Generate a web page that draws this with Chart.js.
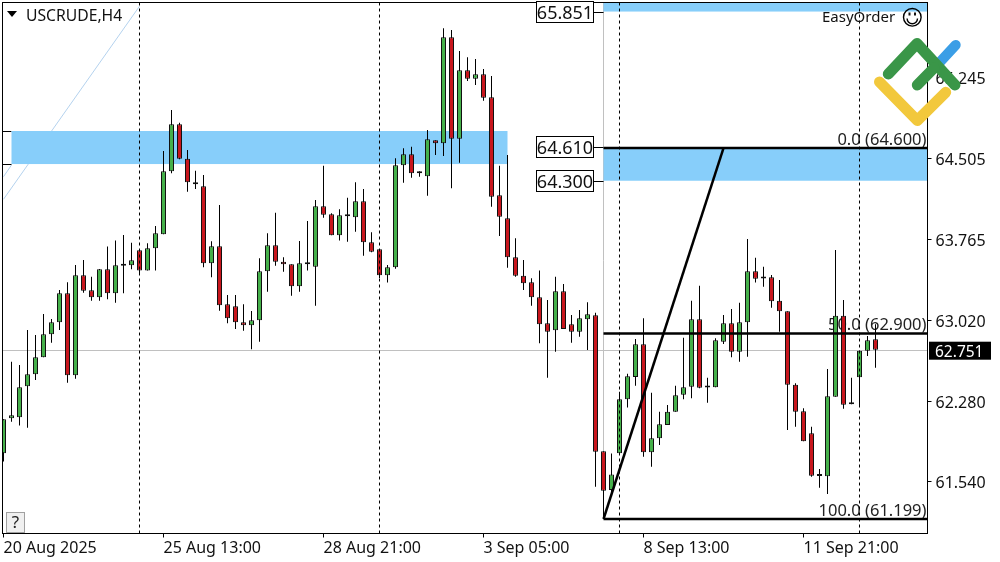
<!DOCTYPE html>
<html>
<head>
<meta charset="utf-8">
<title>USCRUDE,H4</title>
<script src="https://cdn.jsdelivr.net/npm/chart.js@4"></script>
<style>
  html, body { margin: 0; padding: 0; background: #fff; }
  canvas { display: block; }
</style>
</head>
<body>
<canvas id="chart" width="1000" height="562"></canvas>
<script>
const symbolName = 'USCRUDE,H4';
const xTickCandles = [0, 20, 40, 60, 80, 100];
const xTickLabels = ['20 Aug 2025', '25 Aug 13:00', '28 Aug 21:00', '3 Sep 05:00', '8 Sep 13:00', '11 Sep 21:00'];
const yTicks = [65.245, 64.505, 63.765, 63.02, 62.28, 61.54];

const opens = [61.802,62.122,62.132,62.416,62.526,62.682,62.892,63.002,63.268,62.517,
  63.433,63.296,63.232,63.488,63.268,63.520,63.525,63.662,63.476,63.681,
  63.809,64.387,64.818,64.502,64.286,64.249,63.543,63.699,63.167,63.149,
  63.002,62.975,63.021,63.470,63.708,63.558,63.534,63.332,63.534,63.512,
  64.066,63.992,63.800,63.974,63.965,64.112,63.736,63.672,63.433,63.507,
  64.442,64.543,64.368,64.341,64.671,64.643,65.615,64.686,65.313,65.236,
  65.276,65.065,64.167,63.956,63.598,63.430,63.369,63.232,62.993,62.929,
  63.287,62.984,62.916,63.030,63.067,61.820,61.465,61.802,62.297,62.501,
  62.801,61.811,61.939,62.061,62.183,62.339,62.412,63.030,62.405,62.407,
  62.825,62.993,62.733,63.002,63.470,63.404,63.415,63.200,63.103,62.430,
  62.187,61.985,61.594,61.591,62.320,63.063,62.252,62.498,62.742,62.847];
const highs = [62.113,62.641,62.611,62.932,62.886,63.079,63.033,63.299,63.369,63.528,
  63.574,63.420,63.491,63.696,63.751,63.803,63.732,63.662,63.727,63.885,
  64.573,64.949,64.832,64.582,64.392,64.353,63.745,64.078,63.253,63.253,
  63.167,63.106,63.589,63.818,64.007,63.598,63.534,63.748,63.931,64.124,
  64.438,64.002,64.038,64.145,64.286,64.224,63.828,63.672,63.528,64.506,
  64.598,64.612,64.387,64.765,64.671,65.698,65.682,65.489,65.432,65.416,
  65.324,65.260,64.438,64.536,63.772,63.574,63.406,63.476,63.207,63.420,
  63.354,63.069,63.115,63.186,63.090,61.820,61.800,62.366,62.530,62.849,
  63.039,62.357,62.183,62.244,62.421,62.861,63.200,63.338,62.495,62.856,
  63.069,63.124,63.182,63.766,63.595,63.512,63.436,63.390,63.103,62.443,
  62.214,62.045,61.658,62.574,63.665,63.207,62.495,62.742,62.877,62.984];
const lows = [61.725,62.091,62.055,62.036,62.474,62.682,62.815,62.932,62.449,62.485,
  63.274,63.200,63.200,63.213,63.182,63.268,63.488,63.454,63.476,63.476,
  63.809,64.368,64.497,64.200,64.224,63.507,63.415,63.109,62.993,62.941,
  62.925,62.755,62.825,63.283,63.521,63.466,63.246,63.283,63.476,63.155,
  63.961,63.800,63.751,63.741,63.833,63.613,63.644,63.409,63.366,63.494,
  64.282,64.328,64.337,64.163,64.536,64.527,64.231,64.466,65.214,65.178,
  65.034,64.062,63.794,63.503,63.420,63.299,63.155,62.810,62.495,62.733,
  62.941,62.815,62.870,62.748,61.495,61.199,61.447,61.802,62.221,62.421,
  61.770,61.679,61.878,62.061,62.183,62.297,62.306,62.397,62.265,62.407,
  62.804,62.682,62.641,62.687,63.366,63.329,63.136,62.916,62.015,62.045,
  61.912,61.587,61.486,61.428,62.320,62.210,62.252,62.229,62.694,62.586];
const closes = [62.113,62.150,62.407,62.526,62.682,62.892,63.002,63.268,62.517,63.433,
  63.292,63.232,63.488,63.268,63.525,63.525,63.571,63.476,63.681,63.818,
  64.387,64.818,64.502,64.286,64.268,63.543,63.699,63.158,63.039,63.002,
  62.975,63.021,63.470,63.708,63.558,63.534,63.332,63.543,63.537,64.066,
  63.989,63.800,63.983,63.977,64.112,63.736,63.650,63.433,63.507,64.442,
  64.543,64.368,64.387,64.680,64.643,65.615,64.686,65.313,65.236,65.276,
  65.061,64.154,63.970,63.598,63.430,63.360,63.232,62.984,62.916,63.287,
  62.941,62.916,63.039,63.076,61.816,61.459,61.607,62.297,62.507,62.801,
  61.811,61.939,62.067,62.183,62.333,62.407,63.030,62.403,62.409,62.837,
  62.993,62.733,63.002,63.470,63.402,63.407,63.195,63.103,62.430,62.183,
  61.912,61.596,61.598,62.324,63.063,62.247,62.255,62.742,62.837,62.751];

const currentPrice = 62.751;
const fibStart = 75;
const fibPrices = [64.6, 62.9, 61.199];
const fibLabels = ['0.0 (64.600)', '50.0 (62.900)', '100.0 (61.199)'];
const trendCandles = [75, 90];
const trendPrices = [61.199, 64.6];
const dashedCandles = [17, 47, 77, 107];
const zoneFrom = [1, 75, 75];
const zoneTo = [63, 115.5, 115.5];
const zoneTop = [64.756, 64.6, 66];
const zoneBottom = [64.453, 64.3, 65.851];
const levelPrices = [65.851, 64.61, 64.3];

const xMin = -0.125, xMax = 115.5;
const yMin = 61.066, yMax = 65.934;
const up = '#45B04A', down = '#C8161D', zoneColor = '#87CEFA';
const font = '"Noto Sans", sans-serif';

function lineData(xs, ys) {
  return xs.map((x, i) => ({ x: x, y: ys[i] }));
}

function lineSet(data, width, dash) {
  return {
    type: 'line', data: data, borderColor: '#000', borderWidth: width,
    borderDash: dash || [], pointRadius: 0, tension: 0, order: 0
  };
}

const overlayLines = [];
fibPrices.forEach(p => overlayLines.push(lineSet(lineData([fibStart, xMax], [p, p]), 2.4)));
overlayLines.push(lineSet(lineData(trendCandles, trendPrices), 2.5));
dashedCandles.forEach(c => overlayLines.push(lineSet(lineData([c, c], [yMin, yMax]), 1, [3, 3])));

// stuff under the candles: grey lines, zones, fibo captions
const underPlugin = {
  id: 'under',
  beforeDatasetsDraw(chart) {
    const { ctx, chartArea: a, scales: { x, y } } = chart;
    ctx.save();
    ctx.beginPath();
    ctx.rect(a.left, a.top, a.width, a.height);
    ctx.clip();

    ctx.strokeStyle = '#B4D2EE';
    ctx.lineWidth = 1;
    ctx.beginPath();
    ctx.moveTo(x.getPixelForValue(0), y.getPixelForValue(64.13));
    ctx.lineTo(x.getPixelForValue(17), y.getPixelForValue(65.9));
    ctx.moveTo(x.getPixelForValue(0), y.getPixelForValue(64.337));
    ctx.lineTo(x.getPixelForValue(1), y.getPixelForValue(64.444));
    ctx.stroke();

    ctx.strokeStyle = '#C0C0C0';
    ctx.beginPath();
    const py = Math.round(y.getPixelForValue(currentPrice)) + 0.5;
    ctx.moveTo(a.left, py);
    ctx.lineTo(a.right, py);
    const gx = x.getPixelForValue(fibStart);
    ctx.moveTo(gx, a.top);
    ctx.lineTo(gx, y.getPixelForValue(fibPrices[2]));
    ctx.stroke();

    ctx.fillStyle = '#fff';
    ctx.fillRect(a.left, y.getPixelForValue(zoneTop[0]), x.getPixelForValue(zoneFrom[0]) - a.left,
      y.getPixelForValue(zoneBottom[0]) - y.getPixelForValue(zoneTop[0]));
    ctx.strokeStyle = '#000';
    ctx.beginPath();
    [zoneTop[0], zoneBottom[0]].forEach(p => {
      const yy = Math.round(y.getPixelForValue(p)) + 0.5;
      ctx.moveTo(a.left, yy);
      ctx.lineTo(x.getPixelForValue(zoneFrom[0]), yy);
    });
    ctx.stroke();

    ctx.fillStyle = zoneColor;
    zoneFrom.forEach((from, i) => {
      const l = x.getPixelForValue(from), t = y.getPixelForValue(zoneTop[i]);
      ctx.fillRect(l, t, x.getPixelForValue(zoneTo[i]) - l, y.getPixelForValue(zoneBottom[i]) - t);
    });

    ctx.fillStyle = '#222';
    ctx.font = '16.5px ' + font;
    ctx.textAlign = 'right';
    ctx.textBaseline = 'bottom';
    fibLabels.forEach((t, i) => ctx.fillText(t, a.right - 1, y.getPixelForValue(fibPrices[i]) + 0.5));
    ctx.restore();
  }
};

function stroked(ctx, pts, color, width) {
  ctx.strokeStyle = color;
  ctx.lineWidth = width;
  ctx.lineCap = 'round';
  ctx.lineJoin = 'round';
  ctx.beginPath();
  pts.forEach((p, i) => i ? ctx.lineTo(p[0], p[1]) : ctx.moveTo(p[0], p[1]));
  ctx.stroke();
}

// frame, labels and the logo on top of everything
const overPlugin = {
  id: 'over',
  afterDraw(chart) {
    const { ctx, chartArea: a, scales: { y } } = chart;
    ctx.save();
    ctx.strokeStyle = '#000';
    ctx.lineWidth = 1;
    ctx.strokeRect(a.left, a.top, a.width, a.height);

    ctx.fillStyle = '#000';
    ctx.beginPath();
    ctx.moveTo(7, 11);
    ctx.lineTo(17, 11);
    ctx.lineTo(12, 17);
    ctx.fill();
    ctx.font = '15.7px ' + font;
    ctx.textAlign = 'left';
    ctx.textBaseline = 'middle';
    ctx.fillStyle = '#111';
    ctx.fillText(symbolName, 26, 16.5);

    ctx.font = '15px ' + font;
    ctx.fillText('EasyOrder', 822, 18);
    ctx.lineWidth = 1.4;
    ctx.beginPath();
    ctx.arc(912.3, 17.3, 8.8, 0, Math.PI * 2);
    ctx.moveTo(917.5, 18.5);
    ctx.arc(912.3, 18.5, 5.2, 0, Math.PI);
    ctx.stroke();
    ctx.fillRect(908.5, 12.5, 2, 3);
    ctx.fillRect(914, 12.5, 2, 3);

    ctx.fillStyle = '#F0F0F0';
    ctx.fillRect(6.5, 512.5, 18, 20);
    ctx.strokeStyle = '#A0A0A0';
    ctx.lineWidth = 1;
    ctx.strokeRect(6.5, 512.5, 18, 20);
    ctx.fillStyle = '#222';
    ctx.textAlign = 'center';
    ctx.font = '17px ' + font;
    ctx.fillText('?', 15.5, 523.5);

    levelPrices.forEach(p => {
      const py = Math.round(y.getPixelForValue(p));
      ctx.fillStyle = '#fff';
      ctx.fillRect(536.5, py - 10.5, 57, 21);
      ctx.strokeStyle = '#000';
      ctx.strokeRect(536.5, py - 10.5, 57, 21);
      ctx.beginPath();
      ctx.moveTo(593.5, py + 0.5);
      ctx.lineTo(603.5, py + 0.5);
      ctx.stroke();
      ctx.fillStyle = '#111';
      ctx.font = '18px ' + font;
      ctx.textAlign = 'center';
      ctx.fillText(p.toFixed(3), 565, py + 1.5);
    });

    const ty = y.getPixelForValue(currentPrice);
    ctx.fillStyle = '#000';
    ctx.fillRect(929, ty - 8, 62, 18);
    ctx.fillStyle = '#fff';
    ctx.font = '15.5px ' + font;
    ctx.textAlign = 'left';
    ctx.fillText(currentPrice.toFixed(3), 935, ty + 2.5);

    stroked(ctx, [[955.7, 45], [940, 62]], '#3B9EE6', 10);
    stroked(ctx, [[879.5, 82], [917.3, 120.5], [945.7, 92.3]], '#F2C83C', 11);
    stroked(ctx, [[888.3, 74], [917, 43.5], [955, 85]], '#3A9648', 11);
    stroked(ctx, [[917.3, 85], [934, 68]], '#3A9648', 11);
    ctx.restore();
  }
};

new Chart(document.getElementById('chart').getContext('2d'), {
  type: 'bar',
  data: {
    datasets: [
      ...overlayLines,
      {
        data: opens.map((o, i) => ({ x: i, y: [o, closes[i]] })),
        backgroundColor: opens.map((o, i) => closes[i] >= o ? up : down),
        borderColor: '#111',
        borderWidth: 1,
        borderSkipped: false,
        barThickness: 5,
        minBarLength: 2,
        inflateAmount: 0,
        grouped: false,
        order: 1
      },
      {
        data: highs.map((h, i) => ({ x: i, y: [lows[i], h] })),
        backgroundColor: '#000',
        borderWidth: 0,
        barThickness: 1,
        inflateAmount: 0,
        grouped: false,
        order: 2
      }
    ]
  },
  options: {
    responsive: false,
    animation: false,
    layout: { padding: { left: 2.5, top: 2.5, right: 0, bottom: 0 } },
    plugins: { legend: { display: false }, tooltip: { enabled: false } },
    scales: {
      x: {
        type: 'linear',
        offset: false,
        min: xMin,
        max: xMax,
        afterBuildTicks: s => { s.ticks = xTickCandles.map(v => ({ value: v })); },
        afterFit: s => { s.height = 28.5; s.paddingLeft = 0; s.paddingRight = 0; },
        border: { display: false },
        grid: { offset: false, drawOnChartArea: false, tickColor: '#000', tickLength: 4 },
        ticks: {
          autoSkip: false, maxRotation: 0, align: 'start', padding: 1,
          color: '#111', font: { family: font, size: 16 },
          callback: (v, i) => xTickLabels[i]
        }
      },
      y: {
        position: 'right',
        min: yMin,
        max: yMax,
        afterBuildTicks: s => { s.ticks = yTicks.map(v => ({ value: v })); },
        afterFit: s => { s.width = 72.5; s.paddingTop = 0; s.paddingBottom = 0; },
        border: { display: false },
        grid: { drawOnChartArea: false, tickColor: '#000', tickLength: 4 },
        ticks: {
          padding: 4, color: '#111', font: { family: font, size: 16, lineHeight: 0.25 },
          // empty first line pushes the text down 2px, Noto sits high on middle baseline
          callback: v => ['', v.toFixed(3)]
        }
      }
    }
  },
  plugins: [underPlugin, overPlugin]
});
</script>
</body>
</html>
